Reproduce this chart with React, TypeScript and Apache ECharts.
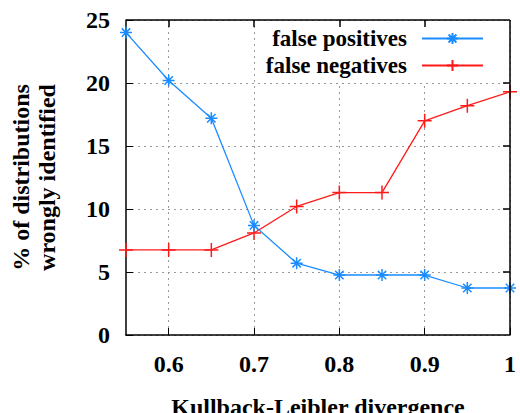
import React, { useEffect, useRef } from "react";
import * as echarts from "echarts";

const xValues = [0.55, 0.6, 0.65, 0.7, 0.75, 0.8, 0.85, 0.9, 0.95, 1.0];
const falsePositives = [24.0, 20.2, 17.2, 8.7, 5.7, 4.76, 4.76, 4.76, 3.73, 3.73];
const falseNegatives = [6.75, 6.75, 6.75, 8.1, 10.2, 11.3, 11.3, 17.0, 18.2, 19.3];
const xTicks = [0.6, 0.7, 0.8, 0.9, 1.0];
const yTicks = [5, 10, 15, 20];
const seriesNames = ["false positives", "false negatives"];
const xTitle = "Kullback-Leibler divergence";
const yTitle = "% of distributions\nwrongly identified";
const X_MIN = 0.55;
const X_MAX = 1.0;
const Y_MIN = 0;
const Y_MAX = 25;

const FONT = "Liberation Serif";
const BLUE = "#1a8cff";
const RED = "#ff1a1a";

const starPath = "path://M0 5L10 5M5 0L5 10M1.5 1.5L8.5 8.5M1.5 8.5L8.5 1.5";
const plusPath = "path://M0 5L10 5M5 0L5 10";

export default function App() {
  const ref = useRef<HTMLDivElement>(null);
  useEffect(() => {
    if (!ref.current) return;
    const chart = echarts.init(ref.current, null, { renderer: "svg" });
    const labelStyle = { color: "#000", fontFamily: FONT, fontWeight: "bold" as const, fontSize: 24 };
    const legendCommon = {
      orient: "vertical" as const,
      align: "right" as const,
      right: 31,
      itemWidth: 61,
      itemHeight: 14,
      backgroundColor: "#fff",
      textStyle: { ...labelStyle, fontSize: 23, padding: [0, 10, 0, 0] },
    };
    // tick lengths expressed in axis units (about 7 px)
    const tickY = 0.55;
    const tickX = 0.0082;
    const frameLines: any[] = [
      [{ coord: [X_MIN, Y_MAX] }, { coord: [X_MAX, Y_MAX] }],
      [{ coord: [X_MAX, Y_MIN] }, { coord: [X_MAX, Y_MAX] }],
      ...xTicks.filter((v) => v < X_MAX).map((v) => [{ coord: [v, Y_MAX] }, { coord: [v, Y_MAX - tickY] }]),
      ...yTicks.map((v) => [{ coord: [X_MAX, v] }, { coord: [X_MAX - tickX, v] }]),
    ];
    chart.setOption({
      animation: false,
      backgroundColor: "#fff",
      grid: { left: 126, right: 10, top: 20, bottom: 78, outerBoundsMode: "none", containLabel: false },
      xAxis: {
        type: "value",
        min: X_MIN,
        max: X_MAX,
        name: xTitle,
        nameLocation: "middle",
        nameGap: 60,
        nameTextStyle: { ...labelStyle },
        axisLine: { show: true, onZero: false, lineStyle: { color: "#000", width: 1.5 } },
        axisTick: { show: true, inside: true, length: 7, customValues: xTicks, lineStyle: { color: "#000", width: 1 } },
        axisLabel: { ...labelStyle, margin: 17, customValues: xTicks, formatter: (v: number) => String(Math.round(v * 10) / 10) },
        splitLine: { show: true, lineStyle: { color: "#999", type: [2, 4], width: 1 } },
      },
      yAxis: {
        type: "value",
        min: Y_MIN,
        max: Y_MAX,
        interval: 5,
        name: yTitle,
        nameLocation: "middle",
        nameRotate: 90,
        nameGap: 66,
        nameTextStyle: { ...labelStyle, lineHeight: 26 },
        axisLine: { show: true, onZero: false, lineStyle: { color: "#000", width: 1.5 } },
        axisTick: { show: true, inside: true, length: 7, lineStyle: { color: "#000", width: 1 } },
        axisLabel: { ...labelStyle, margin: 16 },
        splitLine: { show: true, lineStyle: { color: "#999", type: [2, 4], width: 1 } },
      },
      legend: [
        { ...legendCommon, top: 22, data: [seriesNames[0]], padding: [5, 5, 3, 10] },
        { ...legendCommon, top: 51, data: [seriesNames[1]], padding: [3, 5, 6, 10] },
      ],
      series: [
        {
          name: seriesNames[0],
          type: "line",
          data: xValues.map((x, i) => [x, falsePositives[i]]),
          symbol: starPath,
          symbolSize: 12,
          showAllSymbol: true,
          clip: false,
          lineStyle: { color: BLUE, width: 1.3 },
          itemStyle: { color: BLUE, borderColor: BLUE, borderWidth: 1.5 },
          z: 3,
          markLine: {
            silent: true,
            symbol: ["none", "none"],
            label: { show: false },
            emphasis: { disabled: true },
            lineStyle: { color: "#000", width: 1.5, type: "solid" },
            data: frameLines,
          },
        },
        {
          name: seriesNames[1],
          type: "line",
          data: xValues.map((x, i) => [x, falseNegatives[i]]),
          symbol: plusPath,
          symbolSize: 14,
          showAllSymbol: true,
          clip: false,
          lineStyle: { color: RED, width: 1.3 },
          itemStyle: { color: RED, borderColor: RED, borderWidth: 1.5 },
          z: 2,
        },
      ],
    });
    return () => chart.dispose();
  }, []);
  return <div ref={ref} style={{ width: 520, height: 413, position: "absolute", left: 0, top: 0 }} />;
}
